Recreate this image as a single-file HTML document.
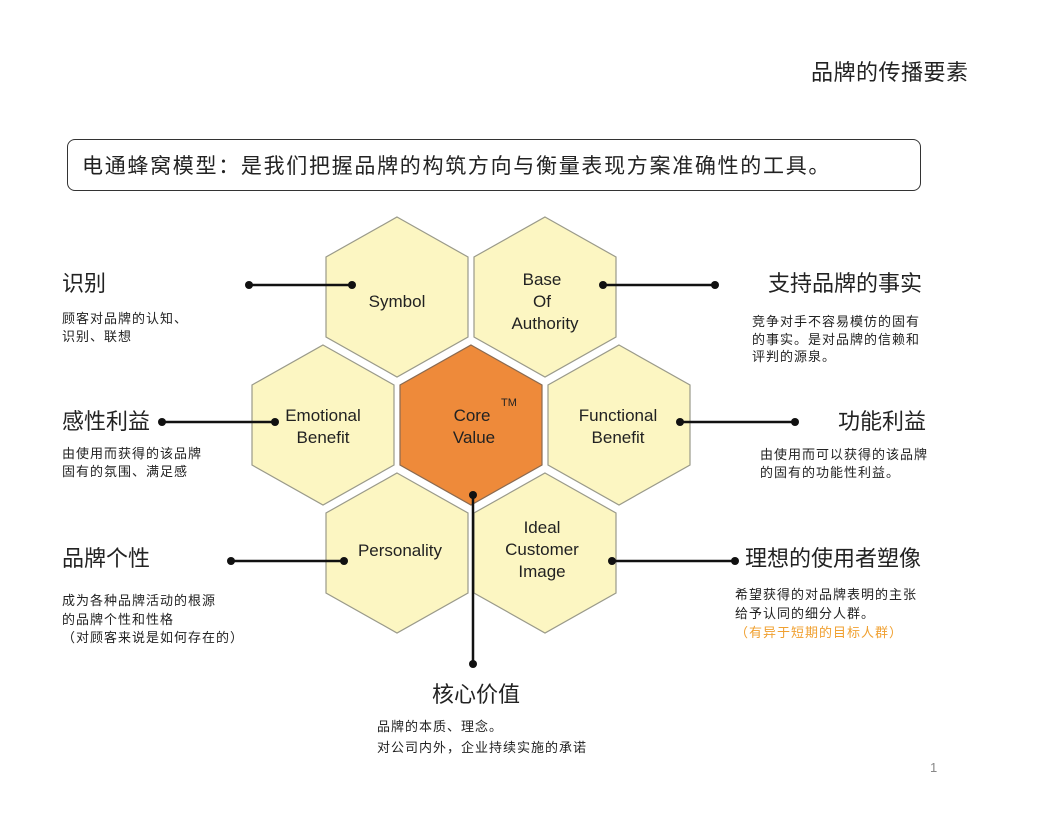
<!DOCTYPE html>
<html><head><meta charset="utf-8"><style>
body{margin:0;width:1046px;height:826px;background:#fff;position:relative;overflow:hidden;font-family:"Liberation Sans","Noto Sans CJK SC",sans-serif;color:#222}
.t{position:absolute;white-space:nowrap}
.h{font-size:22px;line-height:26px}
.d{font-size:13px;line-height:17.5px;letter-spacing:1px}
</style></head><body>
<div class="t" style="left:811px;top:55px;font-size:22px;letter-spacing:0.5px">品牌的传播要素</div>
<div style="position:absolute;left:67px;top:139px;width:852px;height:50px;border:1.6px solid #333;border-radius:8px"></div>
<div class="t" style="left:82px;top:150px;font-size:21px;letter-spacing:1.7px">电通蜂窝模型：是我们把握品牌的构筑方向与衡量表现方案准确性的工具。</div>

<svg width="1046" height="826" style="position:absolute;left:0;top:0" font-family="Liberation Sans, sans-serif" font-size="17" fill="#222">
<defs><polygon id="hx" points="0,-80 71,-40 71,40 0,80 -71,40 -71,-40"/></defs>
<g fill="#fcf6c2" stroke="#9a9a8a" stroke-width="1.2">
<use href="#hx" x="397" y="297"/><use href="#hx" x="545" y="297"/>
<use href="#hx" x="323" y="425"/><use href="#hx" x="619" y="425"/>
<use href="#hx" x="397" y="553"/><use href="#hx" x="545" y="553"/>
</g>
<use href="#hx" x="471" y="425" fill="#ee8a3a" stroke="#8a6a50" stroke-width="1.2"/>
<g text-anchor="middle">
<text x="397" y="307">Symbol</text>
<text x="542" y="285">Base</text><text x="542" y="307">Of</text><text x="545" y="329">Authority</text>
<text x="323" y="421">Emotional</text><text x="323" y="443">Benefit</text>
<text x="618" y="421">Functional</text><text x="618" y="443">Benefit</text>
<text x="472" y="421">Core</text><text x="474" y="443">Value</text>
<text x="400" y="556">Personality</text>
<text x="542" y="533">Ideal</text><text x="542" y="555">Customer</text><text x="542" y="577">Image</text>
</g>
<text x="501" y="406" font-size="11">TM</text>
<g stroke="#111" stroke-width="2.5">
<line x1="249" y1="285" x2="352" y2="285"/>
<line x1="603" y1="285" x2="715" y2="285"/>
<line x1="162" y1="422" x2="275" y2="422"/>
<line x1="680" y1="422" x2="795" y2="422"/>
<line x1="231" y1="561" x2="344" y2="561"/>
<line x1="612" y1="561" x2="735" y2="561"/>
<line x1="473" y1="495" x2="473" y2="664"/>
</g>
<g fill="#111">
<circle cx="249" cy="285" r="4"/><circle cx="352" cy="285" r="4"/>
<circle cx="603" cy="285" r="4"/><circle cx="715" cy="285" r="4"/>
<circle cx="162" cy="422" r="4"/><circle cx="275" cy="422" r="4"/>
<circle cx="680" cy="422" r="4"/><circle cx="795" cy="422" r="4"/>
<circle cx="231" cy="561" r="4"/><circle cx="344" cy="561" r="4"/>
<circle cx="612" cy="561" r="4"/><circle cx="735" cy="561" r="4"/>
<circle cx="473" cy="495" r="4"/><circle cx="473" cy="664" r="4"/>
</g>
</svg>

<div class="t h" style="left:62px;top:271px">识别</div>
<div class="t d" style="left:62px;top:310px">顾客对品牌的认知、<br>识别、联想</div>
<div class="t h" style="left:62px;top:409px">感性利益</div>
<div class="t d" style="left:62px;top:445px">由使用而获得的该品牌<br>固有的氛围、满足感</div>
<div class="t h" style="left:62px;top:546px">品牌个性</div>
<div class="t d" style="left:62px;top:592px;line-height:18.5px">成为各种品牌活动的根源<br>的品牌个性和性格<br>（对顾客来说是如何存在的）</div>

<div class="t h" style="left:768px;top:271px">支持品牌的事实</div>
<div class="t d" style="left:752px;top:313px">竞争对手不容易模仿的固有<br>的事实。是对品牌的信赖和<br>评判的源泉。</div>
<div class="t h" style="left:838px;top:409px">功能利益</div>
<div class="t d" style="left:760px;top:446px">由使用而可以获得的该品牌<br>的固有的功能性利益。</div>
<div class="t h" style="left:745px;top:546px">理想的使用者塑像</div>
<div class="t d" style="left:735px;top:585px;line-height:19px">希望获得的对品牌表明的主张<br>给予认同的细分人群。<br><span style="color:#f0a030">（有异于短期的目标人群）</span></div>

<div class="t h" style="left:432px;top:682px">核心价值</div>
<div class="t d" style="left:377px;top:716px;line-height:21px">品牌的本质、理念。<br>对公司内外，企业持续实施的承诺</div>
<div class="t" style="left:930px;top:760px;font-size:13px;color:#888">1</div>
</body></html>
